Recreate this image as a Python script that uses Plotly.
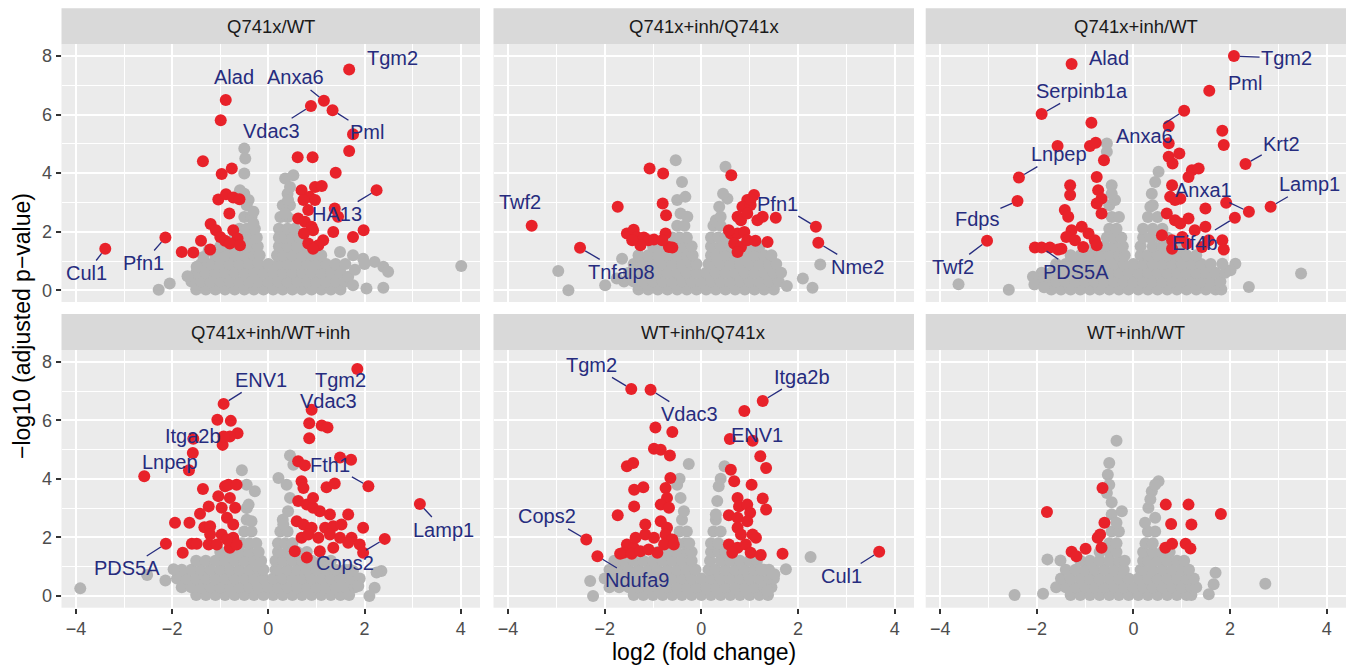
import plotly.graph_objects as go

# ---------------- data ----------------
TITLES = ["Q741x/WT", "Q741x+inh/Q741x", "Q741x+inh/WT",
          "Q741x+inh/WT+inh", "WT+inh/Q741x", "WT+inh/WT"]

X_TICKS = [-4, -2, 0, 2, 4]
Y_TICKS = [0, 2, 4, 6, 8]

# significant proteins (log2 FC, -log10 adj p) per comparison
RED_1 = [(1.68, 7.54), (-0.885, 6.50), (-0.99, 5.81), (1.155, 6.47), (0.885, 6.29), (1.335, 6.15),
         (1.76, 5.33), (1.68, 4.76), (1.40, 4.01), (2.25, 3.42), (0.61, 4.54), (0.92, 4.54),
         (-1.36, 4.41), (-0.97, 3.97), (-0.76, 4.16), (-1.04, 3.10), (-0.88, 3.28), (-0.73, 3.17),
         (-0.60, 3.11), (-0.81, 2.62), (-1.20, 2.26), (-1.09, 2.05), (-1.00, 1.82), (-0.73, 2.05),
         (-0.64, 1.77), (-0.90, 1.69), (-0.80, 1.60), (-0.59, 1.54), (-1.40, 1.69), (-1.21, 1.39),
         (-1.56, 1.29), (-1.80, 1.31), (-2.14, 1.80), (-3.39, 1.42), (0.69, 3.42), (0.86, 3.19),
         (0.97, 3.08), (0.97, 3.53), (1.11, 3.56), (0.73, 3.08), (0.83, 2.74), (0.62, 2.45),
         (0.76, 2.34), (0.90, 2.17), (0.93, 2.05), (0.74, 1.94), (1.38, 2.79), (1.45, 2.51),
         (1.35, 1.99), (1.14, 1.71), (1.04, 1.54), (0.83, 1.60), (1.76, 1.82), (1.98, 2.05), (0.93, 1.42)]
RED_2 = [(-3.51, 2.20), (-2.51, 1.45), (-1.73, 2.85), (-1.07, 4.16), (-0.79, 3.99), (-0.80, 2.96),
         (-0.73, 2.56), (-1.54, 1.94), (-1.40, 2.07), (-1.33, 1.82), (-1.19, 1.80), (-1.09, 1.71),
         (-0.98, 1.73), (-1.26, 1.54), (-1.43, 1.71), (-0.74, 1.94), (-0.67, 1.48), (-0.60, 1.46),
         (-0.81, 1.71), (0.62, 3.93), (1.09, 3.25), (0.95, 3.08), (0.85, 2.85), (1.02, 2.91),
         (0.75, 2.51), (0.82, 2.39), (1.16, 2.39), (1.27, 2.51), (1.54, 2.48), (0.61, 1.94),
         (0.75, 1.94), (0.89, 1.99), (0.68, 1.60), (0.82, 1.48), (0.75, 1.31), (0.95, 1.71),
         (1.12, 1.69), (1.37, 1.65), (0.57, 2.05), (0.95, 2.62), (1.02, 3.10), (2.37, 2.17), (2.42, 1.62)]
RED_3 = [(2.08, 8.00), (-1.28, 7.73), (1.57, 6.81), (-1.90, 6.02), (1.05, 6.13), (0.73, 5.61),
         (-0.87, 5.72), (1.84, 5.45), (1.87, 4.96), (-1.57, 4.93), (-0.90, 4.93), (-0.78, 5.04),
         (0.73, 5.02), (0.73, 4.56), (0.95, 4.67), (0.81, 4.33), (-0.61, 4.44), (2.32, 4.31),
         (-2.37, 3.85), (-2.40, 3.05), (-3.03, 1.69), (2.84, 2.85), (2.39, 2.68), (2.10, 2.48),
         (1.92, 2.99), (1.49, 2.79), (-2.04, 1.46), (-1.90, 1.46), (-1.73, 1.46), (-1.56, 1.39),
         (-1.31, 3.59), (-1.31, 3.25), (-0.76, 3.87), (-0.73, 3.42), (-0.66, 3.13), (-1.42, 2.74),
         (-1.35, 2.51), (-0.76, 2.96), (-0.66, 2.62), (-1.28, 2.05), (-1.07, 2.17), (-1.39, 1.82),
         (-0.93, 1.94), (-1.21, 1.71), (-0.80, 1.71), (-1.04, 1.48), (-0.76, 1.54), (-1.49, 1.42),
         (1.21, 4.10), (1.35, 4.16), (1.14, 3.87), (0.80, 3.59), (0.76, 3.19), (0.97, 3.13),
         (0.86, 3.08), (0.69, 2.62), (0.86, 2.39), (1.14, 2.45), (0.97, 2.28), (1.27, 2.05),
         (1.49, 2.17), (0.59, 1.88), (0.80, 1.71), (1.01, 1.82), (1.56, 1.71), (1.42, 1.48),
         (1.84, 1.71), (1.87, 1.39), (0.80, 1.42), (1.11, 1.60)]
RED_4 = [(1.85, 7.75), (-0.93, 6.56), (0.90, 6.36), (-1.06, 6.02), (-0.78, 5.98), (-0.64, 5.56),
         (-0.80, 5.45), (-0.95, 5.16), (-0.93, 5.45), (-1.56, 5.37), (-1.57, 4.88), (-1.65, 4.29),
         (-2.58, 4.09), (0.85, 5.90), (0.85, 5.39), (1.11, 5.82), (1.23, 5.75), (0.62, 4.60),
         (0.76, 4.46), (1.49, 4.73), (1.72, 4.65), (2.08, 3.75), (1.21, 3.71), (1.38, 3.84),
         (3.15, 3.14), (2.42, 1.95), (-2.13, 1.78),
         (-1.36, 3.65), (-1.94, 2.50), (-1.64, 2.50), (-1.42, 2.81), (-1.24, 3.06), (-1.33, 2.35),
         (-1.21, 2.38), (-1.78, 1.48), (-1.59, 1.78), (-1.49, 1.78), (-1.24, 1.76), (-1.21, 2.10),
         (-1.04, 3.41), (-0.90, 3.75), (-0.83, 3.80), (-0.66, 3.80), (-0.80, 3.35), (-0.97, 3.01),
         (-0.69, 3.01), (-0.86, 2.67), (-0.73, 2.44), (-0.97, 2.10), (-0.73, 1.99), (-1.07, 1.76),
         (-0.80, 1.65), (-0.66, 1.76), (-0.86, 1.93),
         (0.69, 3.92), (0.73, 3.69), (0.62, 3.24), (0.80, 3.12), (0.93, 3.01), (1.07, 2.89),
         (1.28, 2.78), (1.66, 2.78), (0.59, 2.55), (0.73, 2.44), (0.90, 2.33), (1.18, 2.33),
         (1.35, 2.38), (1.52, 2.44), (1.97, 2.33), (0.69, 1.99), (0.83, 2.10), (1.04, 1.99),
         (1.28, 2.10), (1.49, 1.99), (1.73, 1.99), (1.90, 1.76), (1.97, 1.48), (0.55, 1.53),
         (0.80, 1.31), (1.07, 1.53), (1.35, 1.65), (1.66, 1.82), (0.93, 3.35)]
RED_5 = [(-1.45, 7.07), (-1.05, 7.04), (1.27, 6.66), (0.89, 6.32), (0.59, 5.36), (1.06, 5.30),
         (-0.95, 5.75), (-0.60, 5.60), (-0.98, 5.03), (-0.84, 4.99), (-0.65, 4.80), (-1.54, 4.43),
         (-1.41, 4.54), (1.22, 4.77), (1.34, 4.37), (0.61, 4.31), (0.68, 3.92), (1.04, 3.80),
         (-1.39, 3.63), (-1.20, 3.71), (-0.64, 4.03), (-0.74, 3.69), (-0.71, 3.35), (-1.39, 3.06),
         (-0.84, 3.12), (-0.67, 3.01), (-1.73, 2.76), (-1.16, 2.44), (-0.84, 2.55), (-0.71, 2.33),
         (-1.16, 2.10), (-0.98, 1.99), (-0.74, 2.10), (-0.60, 1.93), (-1.54, 1.76), (-1.40, 1.65),
         (-1.61, 1.48), (-1.68, 1.44), (-1.44, 1.44), (-1.26, 1.53), (-1.09, 1.59), (-0.91, 1.48),
         (-0.77, 1.76), (-0.57, 1.76), (-1.36, 1.99),
         (0.75, 3.35), (0.78, 3.06), (0.95, 3.12), (1.01, 2.84), (1.27, 3.33), (1.34, 2.95),
         (0.57, 2.76), (0.75, 2.67), (0.95, 2.55), (0.75, 2.33), (0.82, 2.10), (1.13, 1.99),
         (0.57, 1.76), (0.75, 1.65), (0.92, 1.76), (1.02, 1.48), (1.23, 1.40), (1.68, 1.44),
         (0.64, 1.48), (1.06, 2.10), (-2.38, 1.93), (-2.15, 1.36), (3.68, 1.51)]
RED_6 = [(-1.79, 2.87), (-0.64, 3.69), (-0.60, 2.50), (-0.69, 2.10), (-0.74, 1.99), (-0.66, 1.65),
         (-1.28, 1.51), (-1.18, 1.36), (-0.99, 1.61), (0.67, 3.12), (1.14, 3.12), (1.81, 2.80),
         (0.78, 2.46), (1.20, 2.44), (0.66, 1.65), (0.80, 1.78), (1.08, 1.78), (1.18, 1.62)]

# non-significant proteins: dense rows (-log10 p, [log2 FC ...]) plus scattered ones
GREY_ROWS_1 = [
    (0.03, [-1.5, -1.3, -1.1, -0.9, -0.7, -0.5, -0.3, -0.1, 0.1, 0.3, 0.5, 0.7, 0.9, 1.1, 1.3, 1.5]),
    (0.30, [-1.6, -1.4, -1.2, -1.0, -0.8, -0.6, -0.4, -0.2, 0.0, 0.2, 0.4, 0.6, 0.8, 1.0, 1.2, 1.4, 1.6]),
    (0.60, [-1.5, -1.3, -1.1, -0.9, -0.7, -0.5, -0.3, -0.1, 0.1, 0.3, 0.5, 0.7, 0.9, 1.1, 1.3, 1.5]),
    (0.90, [-1.4, -1.2, -1.0, -0.8, -0.6, -0.4, -0.2, 0.0, 0.2, 0.4, 0.6, 0.8, 1.0, 1.2, 1.4]),
    (1.20, [-1.1, -0.9, -0.7, -0.5, -0.3, -0.18, 0.18, 0.3, 0.5, 0.7, 0.9, 1.1]),
    (1.50, [-1.0, -0.8, -0.6, -0.4, -0.22, 0.22, 0.4, 0.6, 0.8]),
    (1.80, [-0.7, -0.5, -0.35, -0.24, 0.22, 0.35, 0.5, 0.65]),
    (2.10, [-0.6, -0.45, -0.28, 0.22, 0.4, 0.55]),
    (2.50, [-0.5, -0.35, 0.25, 0.4]),
    (2.90, [-0.45, 0.3, 0.45]),
    (3.30, [-0.5, 0.4]),
]
GREY_EXTRA_1 = [(-0.50, 4.84), (-0.48, 4.50), (-0.50, 3.99), (-0.59, 3.42), (-0.41, 3.08), (-0.31, 2.68),
                (-0.31, 2.28), (0.35, 3.82), (0.52, 3.93), (0.45, 3.53), (0.41, 3.08), (0.35, 2.62),
                (1.49, 1.31), (1.76, 1.20), (1.97, 1.08), (2.21, 0.97), (2.39, 0.80), (2.49, 0.63),
                (1.66, 0.46), (1.76, 0.17), (2.04, 0.06), (2.39, 0.09), (4.01, 0.83), (-2.28, 0.02),
                (-2.05, 0.23), (-1.68, 0.48), (-1.49, 0.80), (-1.35, 1.14), (-1.24, 1.37),
                (1.6, 0.9), (1.8, 0.7), (2.0, 0.9)]

GREY_ROWS_2 = [
    (0.03, [-1.3, -1.1, -0.9, -0.7, -0.5, -0.3, -0.1, 0.1, 0.3, 0.5, 0.7, 0.9, 1.1, 1.3, 1.5]),
    (0.30, [-1.6, -1.4, -1.2, -1.0, -0.8, -0.6, -0.4, -0.2, 0.0, 0.2, 0.4, 0.6, 0.8, 1.0, 1.2, 1.4, 1.6]),
    (0.60, [-1.5, -1.3, -1.1, -0.9, -0.7, -0.5, -0.3, -0.1, 0.1, 0.3, 0.5, 0.7, 0.9, 1.1, 1.3, 1.5, 1.65]),
    (0.90, [-1.4, -1.2, -1.0, -0.8, -0.6, -0.4, -0.2, -0.1, 0.15, 0.2, 0.4, 0.6, 0.8, 1.0, 1.2, 1.4, 1.55]),
    (1.20, [-1.3, -1.1, -0.9, -0.7, -0.5, -0.3, -0.18, 0.2, 0.3, 0.5, 0.7, 0.9, 1.1, 1.3, 1.45]),
    (1.50, [-1.0, -0.8, -0.6, -0.4, -0.2, 0.2, 0.4, 0.6, 0.8, 1.0, 1.2]),
    (1.80, [-0.6, -0.45, -0.3, 0.2, 0.35, 0.5]),
    (2.20, [-0.5, -0.35, 0.25, 0.4]),
]
GREY_EXTRA_2 = [(-2.96, 0.66), (-2.75, 0.00), (-1.99, 0.17), (-1.75, 0.40), (-1.64, 1.08), (-0.53, 4.44),
                (-0.40, 3.70), (0.50, 4.22), (0.54, 3.13), (1.77, 0.15), (2.10, 0.40), (2.30, 0.09),
                (2.46, 0.88), (-0.50, 3.08), (-0.33, 3.19), (-0.43, 2.62), (-0.29, 2.51), (0.37, 2.85),
                (0.30, 2.39), (0.40, 2.51), (0.45, 3.30)]

GREY_ROWS_3 = [
    (0.03, [-1.7, -1.5, -1.3, -1.1, -0.9, -0.7, -0.5, -0.3, -0.1, 0.1, 0.3, 0.5, 0.7, 0.9, 1.1, 1.3, 1.5, 1.7, 1.82]),
    (0.30, [-1.95, -1.8, -1.6, -1.4, -1.2, -1.0, -0.8, -0.6, -0.4, -0.2, 0.0, 0.2, 0.4, 0.6, 0.8, 1.0, 1.2, 1.4, 1.6, 1.8]),
    (0.60, [-1.9, -1.7, -1.5, -1.3, -1.1, -0.9, -0.7, -0.5, -0.3, -0.1, 0.1, 0.3, 0.5, 0.7, 0.9, 1.1, 1.3, 1.5, 1.7, 1.9]),
    (0.90, [-1.6, -1.4, -1.2, -1.0, -0.8, -0.6, -0.4, -0.2, 0.0, 0.2, 0.4, 0.6, 0.8, 1.0, 1.2, 1.4, 1.6]),
    (1.20, [-1.3, -1.1, -0.9, -0.7, -0.5, -0.3, -0.18, 0.15, 0.3, 0.5, 0.7, 0.9, 1.1, 1.3]),
    (1.50, [-0.8, -0.6, -0.4, -0.22, 0.15, 0.4, 0.6, 0.8, 1.0]),
    (1.80, [-0.55, -0.4, -0.25, 0.2, 0.35, 0.55, 0.7]),
    (2.10, [-0.5, -0.35, 0.2, 0.4, 0.6]),
    (2.50, [-0.45, -0.3, 0.3, 0.5]),
    (2.90, [-0.5, 0.4]),
]
GREY_EXTRA_3 = [(-3.62, 0.21), (-2.58, 0.02), (-2.08, 0.46), (3.47, 0.57), (2.39, 0.11), (2.11, 0.91),
                (2.01, 0.68), (1.84, 0.91), (-0.55, 5.01), (-0.55, 4.73), (-0.45, 3.59), (-0.38, 3.08),
                (-0.45, 3.30), (0.52, 4.05), (0.45, 3.70), (0.38, 3.30), (0.35, 2.85), (-2.05, 0.2),
                (-1.85, 0.1)]

GREY_ROWS_4 = [
    (0.03, [-1.5, -1.3, -1.1, -0.9, -0.7, -0.5, -0.3, -0.1, 0.1, 0.3, 0.5, 0.7, 0.9, 1.1, 1.3, 1.5, 1.68]),
    (0.30, [-1.8, -1.6, -1.4, -1.2, -1.0, -0.8, -0.6, -0.4, -0.2, 0.0, 0.2, 0.4, 0.6, 0.8, 1.0, 1.2, 1.4, 1.6, 1.8]),
    (0.60, [-1.9, -1.7, -1.5, -1.3, -1.1, -0.9, -0.7, -0.5, -0.3, -0.1, 0.1, 0.3, 0.5, 0.7, 0.9, 1.1, 1.3, 1.5, 1.7, 1.9]),
    (0.90, [-1.8, -1.6, -1.4, -1.2, -1.0, -0.8, -0.6, -0.4, -0.2, -0.1, 0.15, 0.2, 0.4, 0.6, 0.8, 1.0, 1.2, 1.4, 1.6, 1.7]),
    (1.20, [-1.5, -1.3, -1.1, -0.9, -0.7, -0.5, -0.3, -0.15, 0.15, 0.3, 0.5, 0.7, 0.9, 1.1, 1.3]),
    (1.50, [-1.0, -0.8, -0.6, -0.4, -0.2, 0.2, 0.4, 0.6, 0.8]),
    (1.80, [-0.55, -0.4, -0.25, 0.2, 0.35, 0.5]),
    (2.20, [-0.5, -0.35, 0.25, 0.4]),
    (2.60, [-0.45, 0.3]),
    (3.00, [-0.45]),
]
GREY_EXTRA_4 = [(-3.91, 0.26), (-2.14, 0.53), (-1.97, 0.91), (-2.52, 0.72), (2.35, 0.85), (2.21, 0.28),
                (2.10, 0.00), (1.87, 0.34), (1.76, 0.85), (2.25, 0.80), (-0.55, 4.29), (-0.28, 3.58),
                (-0.45, 3.80), (-0.41, 3.12), (-0.35, 2.55), (0.45, 4.80), (0.52, 4.48), (0.21, 4.03),
                (0.38, 3.80), (0.45, 3.35), (0.41, 2.89), (0.31, 2.44)]

GREY_ROWS_5 = [
    (0.03, [-1.4, -1.2, -1.0, -0.8, -0.6, -0.4, -0.2, 0.0, 0.2, 0.4, 0.6, 0.8, 1.0, 1.2, 1.38]),
    (0.30, [-1.9, -1.7, -1.5, -1.3, -1.1, -0.9, -0.7, -0.5, -0.3, -0.1, 0.1, 0.3, 0.5, 0.7, 0.9, 1.1, 1.3, 1.45]),
    (0.60, [-2.0, -1.8, -1.6, -1.4, -1.2, -1.0, -0.8, -0.6, -0.4, -0.2, 0.0, 0.2, 0.4, 0.6, 0.8, 1.0, 1.2, 1.4, 1.5]),
    (0.90, [-1.9, -1.7, -1.5, -1.3, -1.1, -0.9, -0.7, -0.5, -0.3, -0.12, 0.15, 0.3, 0.5, 0.7, 0.9, 1.1, 1.3, 1.4]),
    (1.20, [-1.8, -1.6, -1.4, -1.2, -1.0, -0.8, -0.6, -0.4, -0.2, 0.18, 0.4, 0.6, 0.8, 1.0, 1.15]),
    (1.50, [-0.9, -0.7, -0.5, -0.3, -0.2, 0.2, 0.35, 0.5]),
    (1.80, [-0.5, -0.35, -0.25, 0.2, 0.35]),
    (2.20, [-0.45, -0.3, 0.25, 0.4]),
    (2.60, [-0.4, 0.3]),
]
GREY_EXTRA_5 = [(-2.30, 0.51), (-2.24, 0.00), (2.26, 1.33), (1.75, 0.91), (1.23, 0.91), (1.51, 0.74),
                (1.37, 0.17), (-0.26, 4.51), (-0.50, 3.80), (-0.43, 3.35),
                (-0.36, 2.89), (-0.45, 4.00), (0.48, 4.43), (0.36, 3.75), (0.33, 3.24), (0.30, 2.78),
                (0.40, 4.00)]

GREY_ROWS_6 = [
    (0.03, [-1.3, -1.1, -0.9, -0.7, -0.5, -0.3, -0.1, 0.1, 0.3, 0.5, 0.7, 0.9, 1.1, 1.2]),
    (0.30, [-1.6, -1.4, -1.2, -1.0, -0.8, -0.6, -0.4, -0.2, 0.0, 0.2, 0.4, 0.6, 0.8, 1.0, 1.2, 1.3]),
    (0.60, [-1.5, -1.3, -1.1, -0.9, -0.7, -0.5, -0.3, -0.1, 0.1, 0.3, 0.5, 0.7, 0.9, 1.1, 1.25]),
    (0.90, [-1.4, -1.2, -1.0, -0.8, -0.6, -0.4, -0.2, 0.15, 0.2, 0.4, 0.6, 0.8, 1.0, 1.15]),
    (1.20, [-1.1, -0.9, -0.7, -0.5, -0.3, -0.18, 0.2, 0.3, 0.5, 0.7, 0.9, 1.05]),
    (1.50, [-0.7, -0.5, -0.35, 0.2, 0.4, 0.6, 0.75]),
    (1.80, [-0.5, -0.35, 0.25, 0.4]),
    (2.20, [-0.45, -0.3, 0.3, 0.45]),
]
GREY_EXTRA_6 = [(-2.46, 0.03), (-1.87, 0.08), (-1.78, 1.25), (-1.51, 1.21), (2.73, 0.42), (1.70, 0.79),
                (1.66, 0.40), (1.56, 0.06), (-0.35, 5.30), (-0.50, 4.54), (-0.53, 4.14), (-0.55, 3.52),
                (-0.45, 2.78), (-0.24, 2.89), (-0.50, 3.80), (-0.45, 3.20), (-0.35, 2.50), (0.52, 3.92),
                (0.38, 3.58), (0.31, 3.01), (0.45, 2.67), (0.45, 3.80), (0.35, 3.30), (0.24, 2.50)]

# labelled proteins: (name, log2 FC, -log10 adj p)
GENES_1 = [("Tgm2", 1.68, 7.54), ("Alad", -0.885, 6.50), ("Anxa6", 1.155, 6.47), ("Vdac3", 0.885, 6.29),
           ("Pml", 1.335, 6.15), ("HA13", 2.25, 3.42), ("Pfn1", -2.14, 1.80), ("Cul1", -3.39, 1.42)]
GENES_2 = [("Twf2", -3.51, 2.20), ("Tnfaip8", -2.51, 1.45), ("Pfn1", 2.37, 2.17), ("Nme2", 2.42, 1.62)]
GENES_3 = [("Tgm2", 2.08, 8.00), ("Alad", -1.28, 7.73), ("Pml", 1.57, 6.81), ("Serpinb1a", -1.90, 6.02),
           ("Anxa6", 1.05, 6.13), ("Krt2", 2.32, 4.31), ("Lnpep", -2.37, 3.85), ("Fdps", -2.40, 3.05),
           ("Twf2", -3.03, 1.69), ("Lamp1", 2.84, 2.85), ("Anxa1", 2.39, 2.68), ("Eif4b", 2.10, 2.48),
           ("PDS5A", -1.90, 1.46)]
GENES_4 = [("ENV1", -0.93, 6.56), ("Tgm2", 1.85, 7.75), ("Vdac3", 0.90, 6.36), ("Itga2b", -1.56, 5.37),
           ("Lnpep", -2.58, 4.09), ("Fth1", 2.08, 3.75), ("Lamp1", 3.15, 3.14), ("Cops2", 2.42, 1.95),
           ("PDS5A", -2.13, 1.78)]
GENES_5 = [("Tgm2", -1.45, 7.07), ("Vdac3", -1.05, 7.04), ("Itga2b", 1.27, 6.66), ("ENV1", 1.06, 5.30),
           ("Cops2", -2.38, 1.93), ("Ndufa9", -2.15, 1.36), ("Cul1", 3.68, 1.51)]
GENES_6 = []

# ---------------- label placement (repel result), styles ----------------
LABEL_AT = [
    [(2.59, 7.92, False), (-0.71, 7.29, False), (0.56, 7.27, True), (0.07, 5.45, True),
     (2.05, 5.41, True), (1.43, 2.60, True), (-2.60, 0.93, True), (-3.78, 0.59, True)],
    [(-3.745, 3.02, False), (-1.66, 0.63, True), (1.58, 2.96, True), (3.24, 0.80, True)],
    [(3.17, 7.92, True), (-0.51, 7.92, False), (2.30, 7.07, False), (-1.065, 6.81, True),
     (0.23, 5.26, True), (3.07, 5.01, True), (-1.55, 4.65, True), (-3.24, 2.45, True),
     (-3.74, 0.80, True), (3.64, 3.62, True), (1.44, 3.42, True), (1.27, 1.63, True),
     (-1.19, 0.63, True)],
    [(-0.145, 7.38, True), (1.51, 7.38, False), (1.245, 6.66, False), (-1.56, 5.48, False),
     (-2.05, 4.57, False), (1.29, 4.48, True), (3.64, 2.27, True), (1.60, 1.14, True),
     (-2.94, 0.94, True)],
    [(-2.28, 7.89, True), (-0.25, 6.21, True), (2.09, 7.49, True), (1.15, 5.51, False),
     (-3.20, 2.72, True), (-1.32, 0.53, True), (2.89, 0.68, True)],
    [],
]

RED_SETS = [RED_1, RED_2, RED_3, RED_4, RED_5, RED_6]
GREY_SETS = [(GREY_ROWS_1, GREY_EXTRA_1), (GREY_ROWS_2, GREY_EXTRA_2), (GREY_ROWS_3, GREY_EXTRA_3),
             (GREY_ROWS_4, GREY_EXTRA_4), (GREY_ROWS_5, GREY_EXTRA_5), (GREY_ROWS_6, GREY_EXTRA_6)]
GENE_SETS = [GENES_1, GENES_2, GENES_3, GENES_4, GENES_5, GENES_6]

W, H = 1354, 667
XD = [(61.5 / W, 480 / W), (493.5 / W, 914 / W), (925.7 / W, 1346 / W)]
YD = [((H - 302) / H, (H - 44.3) / H), ((H - 607.7) / H, (H - 350) / H)]
STRIP_H = 36 / H
XR = [-4.3, 4.4]
YR = [-0.4, 8.4]

FONT = "Liberation Sans, Arial, Helvetica, sans-serif"
RED_C = "#E8222A"
GREY_C = "#B4B4B4"
NAVY = "#262C7E"
PANEL_BG = "#EBEBEB"
STRIP_BG = "#D9D9D9"

fig = go.Figure()
layout = dict(
    width=W, height=H, margin=dict(l=0, r=0, t=0, b=0),
    paper_bgcolor="white", plot_bgcolor=PANEL_BG, showlegend=False,
    font=dict(family=FONT, color="#4D4D4D", size=18),
)
annotations = []
shapes = []

for i in range(6):
    r, c = divmod(i, 3)
    sfx = "" if i == 0 else str(i + 1)
    xa, ya = "x" + sfx, "y" + sfx

    rows, extra = GREY_SETS[i]
    gpts = [(x, y) for y, xs in rows for x in xs] + list(extra)
    fig.add_trace(go.Scatter(
        x=[p[0] for p in gpts], y=[p[1] for p in gpts], mode="markers",
        marker=dict(color=GREY_C, size=12, line=dict(width=0)),
        xaxis=xa, yaxis=ya, hoverinfo="skip", cliponaxis=False))
    rpts = RED_SETS[i]
    fig.add_trace(go.Scatter(
        x=[p[0] for p in rpts], y=[p[1] for p in rpts], mode="markers",
        marker=dict(color=RED_C, size=12, line=dict(width=0)),
        xaxis=xa, yaxis=ya, hoverinfo="skip", cliponaxis=False))

    bottom = (r == 1)
    left = (c == 0)
    layout["xaxis" + sfx] = dict(
        domain=list(XD[c]), anchor=ya, range=XR, tickmode="array", tickvals=X_TICKS,
        showgrid=True, gridcolor="white", gridwidth=1.8, zeroline=False, showline=False,
        minor=dict(tickmode="array", tickvals=[-3, -1, 1, 3], showgrid=True,
                   gridcolor="white", gridwidth=0.9, ticks=""),
        ticks="outside" if bottom else "", ticklen=5, tickwidth=1.5, tickcolor="#333333",
        showticklabels=bottom, tickfont=dict(size=18, color="#4D4D4D", family=FONT),
        fixedrange=True)
    layout["yaxis" + sfx] = dict(
        domain=list(YD[r]), anchor=xa, range=YR, tickmode="array", tickvals=Y_TICKS,
        showgrid=True, gridcolor="white", gridwidth=1.8, zeroline=False, showline=False,
        minor=dict(tickmode="array", tickvals=[1, 3, 5, 7], showgrid=True,
                   gridcolor="white", gridwidth=0.9, ticks=""),
        ticks="outside" if left else "", ticklen=5, tickwidth=1.5, tickcolor="#333333",
        showticklabels=left, tickfont=dict(size=18, color="#4D4D4D", family=FONT),
        fixedrange=True)

    # facet strip
    shapes.append(dict(type="rect", xref="paper", yref="paper",
                       x0=XD[c][0], x1=XD[c][1], y0=YD[r][1], y1=YD[r][1] + STRIP_H,
                       fillcolor=STRIP_BG, line=dict(width=0), layer="below"))
    annotations.append(dict(text=TITLES[i], xref="paper", yref="paper",
                            x=(XD[c][0] + XD[c][1]) / 2, y=YD[r][1] + STRIP_H / 2,
                            xanchor="center", yanchor="middle", showarrow=False,
                            font=dict(size=18.5, color="#1A1A1A", family=FONT)))

    # gene labels
    for (name, gx, gy), (tx, ty, arrow) in zip(GENE_SETS[i], LABEL_AT[i]):
        if arrow:
            annotations.append(dict(text=name, x=gx, y=gy, xref=xa, yref=ya,
                                    ax=tx, ay=ty, axref=xa, ayref=ya, showarrow=True,
                                    arrowhead=0, arrowwidth=1.3, arrowcolor=NAVY, standoff=6,
                                    font=dict(size=20, color=NAVY, family=FONT)))
        else:
            annotations.append(dict(text=name, x=tx, y=ty, xref=xa, yref=ya, showarrow=False,
                                    font=dict(size=20, color=NAVY, family=FONT)))

# axis titles
annotations.append(dict(text="log2 (fold change)", xref="paper", yref="paper",
                        x=(XD[0][0] + XD[2][1]) / 2, y=(H - 652) / H, xanchor="center",
                        yanchor="middle", showarrow=False,
                        font=dict(size=23, color="black", family=FONT)))
annotations.append(dict(text="\u2212log10 (adjusted p\u2212value)", xref="paper", yref="paper",
                        x=22 / W, y=(H - 326) / H, xanchor="center", yanchor="middle",
                        textangle=-90, showarrow=False,
                        font=dict(size=23, color="black", family=FONT)))

layout["annotations"] = annotations
layout["shapes"] = shapes
fig.update_layout(**layout)
fig.write_html("out.html", config={"displayModeBar": False},
               post_script="document.body.style.margin='0px';document.body.style.overflow='hidden';")
